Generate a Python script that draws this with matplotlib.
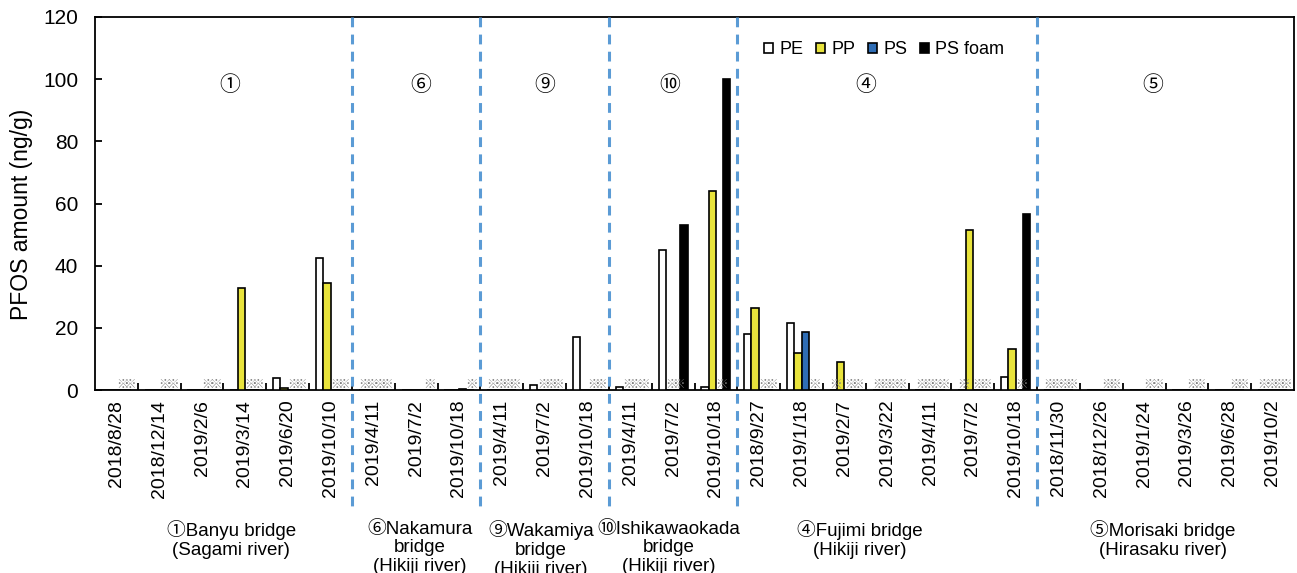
import numpy as np
import matplotlib
matplotlib.use("Agg")
import matplotlib.pyplot as plt
from matplotlib import transforms

plt.rcParams['font.family'] = ['Liberation Sans', 'Noto Sans CJK JP', 'DejaVu Sans']

dates = ['2018/8/28', '2018/12/14', '2019/2/6', '2019/3/14', '2019/6/20', '2019/10/10',
         '2019/4/11', '2019/7/2', '2019/10/18',
         '2019/4/11', '2019/7/2', '2019/10/18',
         '2019/4/11', '2019/7/2', '2019/10/18',
         '2018/9/27', '2019/1/18', '2019/2/7', '2019/3/22', '2019/4/11', '2019/7/2', '2019/10/18',
         '2018/11/30', '2018/12/26', '2019/1/24', '2019/3/26', '2019/6/28', '2019/10/2']

series = ['PE', 'PP', 'PS', 'PS foam']
colors = ['white', '#e8e33c', '#2f6db5', 'black']

pe = [0, 0, 0, 0, 3.8, 42.5, 0, 0, 0, 0, 1.6, 17.1, 0.9, 45.0, 1.1,
      18.0, 21.7, 0, 0, 0, 0, 4.3, 0, 0, 0, 0, 0, 0]
pp = [0, 0, 0, 32.8, 0.7, 34.4, 0, 0, 0, 0, 0, 0, 0, 0, 64.0,
      26.4, 12.0, 9.1, 0, 0, 51.5, 13.2, 0, 0, 0, 0, 0, 0]
ps = [0, 0, 0, 0, 0, 0, 0, 0, 0.3, 0, 0, 0, 0, 0, 0,
      0, 18.8, 0, 0, 0, 0, 0, 0, 0, 0, 0, 0, 0]
ps_foam = [0, 0, 0, 0, 0, 0, 0, 0, 0, 0, 0, 0, 0, 53.1, 100.0,
           0, 0, 0, 0, 0, 0, 56.6, 0, 0, 0, 0, 0, 0]

# not-detected flags (drawn as a reference mark on the baseline)
nd_pe = [0, 0, 0, 0, 0, 0, 1, 0, 0, 1, 0, 0, 0, 0, 0, 0, 0, 1, 1, 1, 1, 0, 1, 0, 0, 0, 0, 1]
nd_pp = [0, 0, 0, 0, 0, 0, 1, 0, 0, 1, 1, 0, 1, 1, 0, 0, 0, 0, 1, 1, 0, 0, 1, 0, 0, 0, 0, 1]
nd_ps = [1, 1, 1, 1, 1, 1, 1, 0, 0, 1, 1, 1, 1, 1, 1, 1, 0, 1, 1, 1, 1, 1, 1, 1, 1, 1, 1, 1]
nd_ps_foam = [1, 1, 1, 1, 1, 1, 1, 1, 1, 1, 1, 1, 1, 0, 0, 1, 1, 1, 1, 1, 1, 0, 1, 1, 1, 1, 1, 1]

site_marks = ['①', '⑥', '⑨', '⑩', '④', '⑤']
site_mark_x = [2.65, 7.11, 10.0, 12.92, 17.5, 24.19]
site_names = ['①Banyu bridge\n(Sagami river)',
              '⑥Nakamura\nbridge\n(Hikiji river)',
              '⑨Wakamiya\nbridge\n(Hikiji river)',
              '⑩Ishikawaokada\nbridge\n(Hikiji river)',
              '④Fujimi bridge\n(Hikiji river)',
              '⑤Morisaki bridge\n(Hirasaku river)']
site_name_x = [2.68, 7.09, 9.91, 12.9, 17.35, 24.43]
dividers = [6, 9, 12, 15, 22]

fig = plt.figure(figsize=(12.97, 5.73), dpi=100)
ax = fig.add_axes([95 / 1297, 183 / 573, 1199 / 1297, 373 / 573])

x = np.arange(len(dates))
w = 0.17
values = [pe, pp, ps, ps_foam]
nd_flags = [nd_pe, nd_pp, nd_ps, nd_ps_foam]
for i, (name, vals, c) in enumerate(zip(series, values, colors)):
    off = (i - 1.5) * w
    ax.bar(x + off, vals, width=w, color=c, edgecolor='black', linewidth=1.2, label=name, zorder=3)
    for xi, flag in zip(x, nd_flags[i]):
        if flag:
            ax.text(xi + off + 0.05, 1.7, '※', ha='center', va='center', fontsize=9,
                    color='#7f7f7f', family=['Noto Sans CJK JP'], zorder=4)

ax.set_xlim(-0.5, len(dates) - 0.5)
ax.set_ylim(0, 120)
ax.set_yticks(np.arange(0, 121, 20))
ax.set_ylabel('PFOS amount (ng/g)', fontsize=16.5)
ax.yaxis.set_label_coords(-0.0517, 0.47)

ax.set_xticks(np.arange(0.5, len(dates) - 0.5, 1.0))
ax.set_xticklabels([])
ax.set_xticks(x, minor=True)
ax.set_xticklabels(dates, minor=True, rotation=90, fontsize=14)
ax.tick_params(axis='x', which='major', direction='in', length=5, width=1.3)
ax.tick_params(axis='x', which='minor', length=0, pad=7)
ax.tick_params(axis='y', direction='in', length=5, width=1.3, labelsize=15, pad=12)
for s in ax.spines.values():
    s.set_linewidth(1.3)

trans = transforms.blended_transform_factory(ax.transData, ax.transAxes)
for d in dividers:
    ax.plot([d - 0.5, d - 0.5], [1.0, -0.32], transform=trans, clip_on=False,
            color='#5b9bd5', linewidth=2.2, dashes=(3.2, 2.4), zorder=5)

for m, mx in zip(site_marks, site_mark_x):
    ax.text(mx, 98.0, m, ha='center', va='center', fontsize=15)

for name, nx in zip(site_names, site_name_x):
    ax.text(nx, -0.35, name, transform=trans, ha='center', va='top',
            multialignment='center', fontsize=13.5, linespacing=1.15)

ax.legend(loc='center', bbox_to_anchor=(0.658, 0.912), ncol=4, frameon=False,
          fontsize=13, handlelength=0.5, handleheight=0.5, handletextpad=0.35,
          columnspacing=0.7, borderaxespad=0)

fig.savefig('out.png', dpi=100)
